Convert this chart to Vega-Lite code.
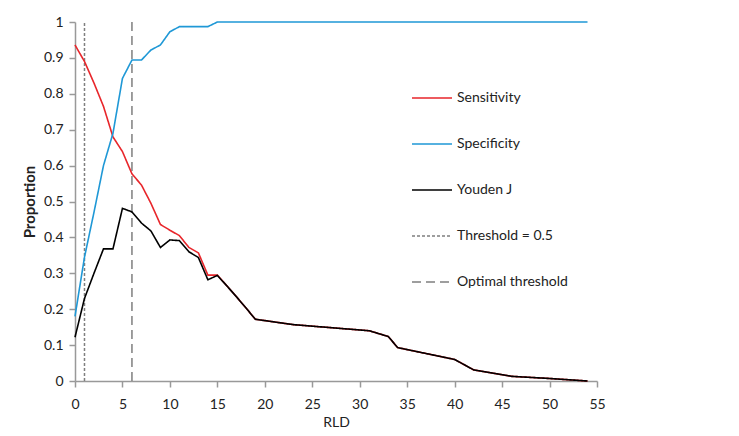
{
  "$schema": "https://vega.github.io/schema/vega-lite/v6.json",
  "width": 522,
  "height": 359,
  "autosize": {"type": "none"},
  "padding": {"left": 75, "top": 22, "right": 142, "bottom": 55},
  "background": "white",
  "config": {
    "view": {"stroke": null},
    "font": "Lato, sans-serif",
    "axis": {
      "grid": false,
      "domainColor": "#999999",
      "domainWidth": 1.5,
      "tickColor": "#999999",
      "tickWidth": 1.5,
      "tickSize": 6,
      "labelFont": "Lato, sans-serif",
      "labelFontSize": 14,
      "labelColor": "#222222",
      "titleFont": "Lato, sans-serif",
      "titleColor": "#222222"
    },
    "legend": {
      "labelFont": "Lato, sans-serif",
      "labelFontSize": 14,
      "labelColor": "#222222"
    }
  },
  "datasets": {
    "curves": [
      {"RLD": 0, "value": 0.936, "series": "Sensitivity"},
      {"RLD": 1, "value": 0.89, "series": "Sensitivity"},
      {"RLD": 2, "value": 0.83, "series": "Sensitivity"},
      {"RLD": 3, "value": 0.765, "series": "Sensitivity"},
      {"RLD": 4, "value": 0.68, "series": "Sensitivity"},
      {"RLD": 5, "value": 0.639, "series": "Sensitivity"},
      {"RLD": 6, "value": 0.577, "series": "Sensitivity"},
      {"RLD": 7, "value": 0.546, "series": "Sensitivity"},
      {"RLD": 8, "value": 0.495, "series": "Sensitivity"},
      {"RLD": 9, "value": 0.436, "series": "Sensitivity"},
      {"RLD": 10, "value": 0.42, "series": "Sensitivity"},
      {"RLD": 11, "value": 0.405, "series": "Sensitivity"},
      {"RLD": 12, "value": 0.372, "series": "Sensitivity"},
      {"RLD": 13, "value": 0.357, "series": "Sensitivity"},
      {"RLD": 14, "value": 0.295, "series": "Sensitivity"},
      {"RLD": 15, "value": 0.295, "series": "Sensitivity"},
      {"RLD": 16, "value": 0.265, "series": "Sensitivity"},
      {"RLD": 17, "value": 0.235, "series": "Sensitivity"},
      {"RLD": 18, "value": 0.204, "series": "Sensitivity"},
      {"RLD": 19, "value": 0.172, "series": "Sensitivity"},
      {"RLD": 23, "value": 0.157, "series": "Sensitivity"},
      {"RLD": 31, "value": 0.14, "series": "Sensitivity"},
      {"RLD": 33, "value": 0.124, "series": "Sensitivity"},
      {"RLD": 34, "value": 0.093, "series": "Sensitivity"},
      {"RLD": 40, "value": 0.06, "series": "Sensitivity"},
      {"RLD": 42, "value": 0.031, "series": "Sensitivity"},
      {"RLD": 46, "value": 0.013, "series": "Sensitivity"},
      {"RLD": 50, "value": 0.007, "series": "Sensitivity"},
      {"RLD": 54, "value": 0.0, "series": "Sensitivity"},
      {"RLD": 0, "value": 0.18, "series": "Specificity"},
      {"RLD": 1, "value": 0.345, "series": "Specificity"},
      {"RLD": 2, "value": 0.47, "series": "Specificity"},
      {"RLD": 3, "value": 0.6, "series": "Specificity"},
      {"RLD": 4, "value": 0.69, "series": "Specificity"},
      {"RLD": 5, "value": 0.843, "series": "Specificity"},
      {"RLD": 6, "value": 0.894, "series": "Specificity"},
      {"RLD": 7, "value": 0.894, "series": "Specificity"},
      {"RLD": 8, "value": 0.922, "series": "Specificity"},
      {"RLD": 9, "value": 0.936, "series": "Specificity"},
      {"RLD": 10, "value": 0.973, "series": "Specificity"},
      {"RLD": 11, "value": 0.987, "series": "Specificity"},
      {"RLD": 12, "value": 0.987, "series": "Specificity"},
      {"RLD": 13, "value": 0.987, "series": "Specificity"},
      {"RLD": 14, "value": 0.987, "series": "Specificity"},
      {"RLD": 15, "value": 1.0, "series": "Specificity"},
      {"RLD": 54, "value": 1.0, "series": "Specificity"},
      {"RLD": 0, "value": 0.122, "series": "Youden J"},
      {"RLD": 1, "value": 0.23, "series": "Youden J"},
      {"RLD": 2, "value": 0.3, "series": "Youden J"},
      {"RLD": 3, "value": 0.368, "series": "Youden J"},
      {"RLD": 4, "value": 0.368, "series": "Youden J"},
      {"RLD": 5, "value": 0.481, "series": "Youden J"},
      {"RLD": 6, "value": 0.471, "series": "Youden J"},
      {"RLD": 7, "value": 0.44, "series": "Youden J"},
      {"RLD": 8, "value": 0.418, "series": "Youden J"},
      {"RLD": 9, "value": 0.372, "series": "Youden J"},
      {"RLD": 10, "value": 0.393, "series": "Youden J"},
      {"RLD": 11, "value": 0.391, "series": "Youden J"},
      {"RLD": 12, "value": 0.36, "series": "Youden J"},
      {"RLD": 13, "value": 0.344, "series": "Youden J"},
      {"RLD": 14, "value": 0.282, "series": "Youden J"},
      {"RLD": 15, "value": 0.294, "series": "Youden J"},
      {"RLD": 16, "value": 0.265, "series": "Youden J"},
      {"RLD": 17, "value": 0.235, "series": "Youden J"},
      {"RLD": 18, "value": 0.204, "series": "Youden J"},
      {"RLD": 19, "value": 0.172, "series": "Youden J"},
      {"RLD": 23, "value": 0.157, "series": "Youden J"},
      {"RLD": 31, "value": 0.14, "series": "Youden J"},
      {"RLD": 33, "value": 0.124, "series": "Youden J"},
      {"RLD": 34, "value": 0.093, "series": "Youden J"},
      {"RLD": 40, "value": 0.06, "series": "Youden J"},
      {"RLD": 42, "value": 0.031, "series": "Youden J"},
      {"RLD": 46, "value": 0.013, "series": "Youden J"},
      {"RLD": 50, "value": 0.007, "series": "Youden J"},
      {"RLD": 54, "value": 0.0, "series": "Youden J"}
    ],
    "thresholds": [
      {"RLD": 1, "series": "Threshold = 0.5"},
      {"RLD": 6, "series": "Optimal threshold"}
    ]
  },
  "encoding": {
    "color": {
      "field": "series",
      "type": "nominal",
      "scale": {
        "domain": ["Sensitivity", "Specificity", "Youden J", "Threshold = 0.5", "Optimal threshold"],
        "range": ["#e8262b", "#1f98d6", "#000000", "#7f7f7f", "#7f7f7f"]
      },
      "legend": {
        "title": null,
        "orient": "none",
        "legendX": 336,
        "legendY": 55,
        "symbolType": "stroke",
        "symbolSize": 1600,
        "symbolStrokeWidth": 1.5,
        "rowPadding": 18,
        "labelOffset": 4
      }
    },
    "strokeDash": {
      "field": "series",
      "type": "nominal",
      "scale": {
        "domain": ["Sensitivity", "Specificity", "Youden J", "Threshold = 0.5", "Optimal threshold"],
        "range": [[1, 0], [1, 0], [1, 0], [3, 2], [9, 5]]
      },
      "legend": {
        "title": null,
        "orient": "none",
        "legendX": 336,
        "legendY": 55,
        "symbolType": "stroke",
        "symbolSize": 1600,
        "symbolStrokeWidth": 1.5,
        "rowPadding": 18,
        "labelOffset": 4
      }
    },
    "x": {
      "field": "RLD",
      "type": "quantitative",
      "scale": {"domain": [0, 55], "nice": false},
      "axis": {
        "values": [0, 5, 10, 15, 20, 25, 30, 35, 40, 45, 50, 55],
        "title": "RLD",
        "titleFontSize": 14,
        "titleFontWeight": "normal",
        "labelPadding": 10,
        "titlePadding": 4,
        "labelFlush": false
      }
    }
  },
  "layer": [
    {
      "data": {"name": "thresholds"},
      "mark": {"type": "rule", "strokeWidth": 1.5},
      "encoding": {
        "y": {
          "datum": 0,
          "type": "quantitative",
          "scale": {"domain": [0, 1], "nice": false},
          "axis": {
            "values": [0, 0.1, 0.2, 0.3, 0.4, 0.5, 0.6, 0.7, 0.8, 0.9, 1],
            "format": "~g",
            "title": "Proportion",
            "titleFontSize": 15,
            "titleFontWeight": "bold",
            "labelPadding": 6,
            "titlePadding": 6,
            "labelFlush": false
          }
        },
        "y2": {"datum": 1}
      }
    },
    {
      "data": {"name": "curves"},
      "mark": {"type": "line", "strokeWidth": 1.6},
      "encoding": {
        "y": {
          "field": "value",
          "type": "quantitative",
          "scale": {"domain": [0, 1], "nice": false},
          "axis": {
            "values": [0, 0.1, 0.2, 0.3, 0.4, 0.5, 0.6, 0.7, 0.8, 0.9, 1],
            "format": "~g",
            "title": "Proportion",
            "titleFontSize": 15,
            "titleFontWeight": "bold",
            "labelPadding": 6,
            "titlePadding": 6,
            "labelFlush": false
          }
        }
      }
    }
  ]
}
